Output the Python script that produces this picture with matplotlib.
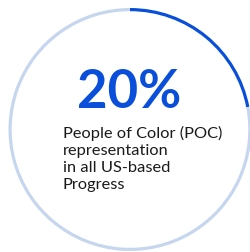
import matplotlib.pyplot as plt

# values
headline_pct = 20
arc_pct = 22          # visible share of the dark arc
label_lines = ["People of Color (POC)", "representation", "in all US-based", "Progress"]

dark_blue = "#0a4fd9"
light_blue = "#c6d6ee"

fig = plt.figure(figsize=(2.51, 2.52), dpi=100)
ax = fig.add_axes([0, 0, 1, 1])

ax.pie([arc_pct, 100 - arc_pct], radius=121.5, center=(130, 122.5),
       startangle=90, counterclock=False, colors=[dark_blue, light_blue],
       wedgeprops=dict(width=3.2, linewidth=0), frame=True)
ax.set_xlim(0, 251)
ax.set_ylim(0, 252)
ax.set_aspect("equal")
ax.axis("off")

ax.text(77, 144, f"{headline_pct}%", fontsize=38, fontweight="bold",
        color=dark_blue, family="Lato", ha="left", va="baseline")

for i, line in enumerate(label_lines):
    ax.text(63, 114 - i * 17, line, fontsize=11.8, color="#1a1a1a",
            family="Lato", ha="left", va="baseline")

plt.savefig("out.png", dpi=100)
